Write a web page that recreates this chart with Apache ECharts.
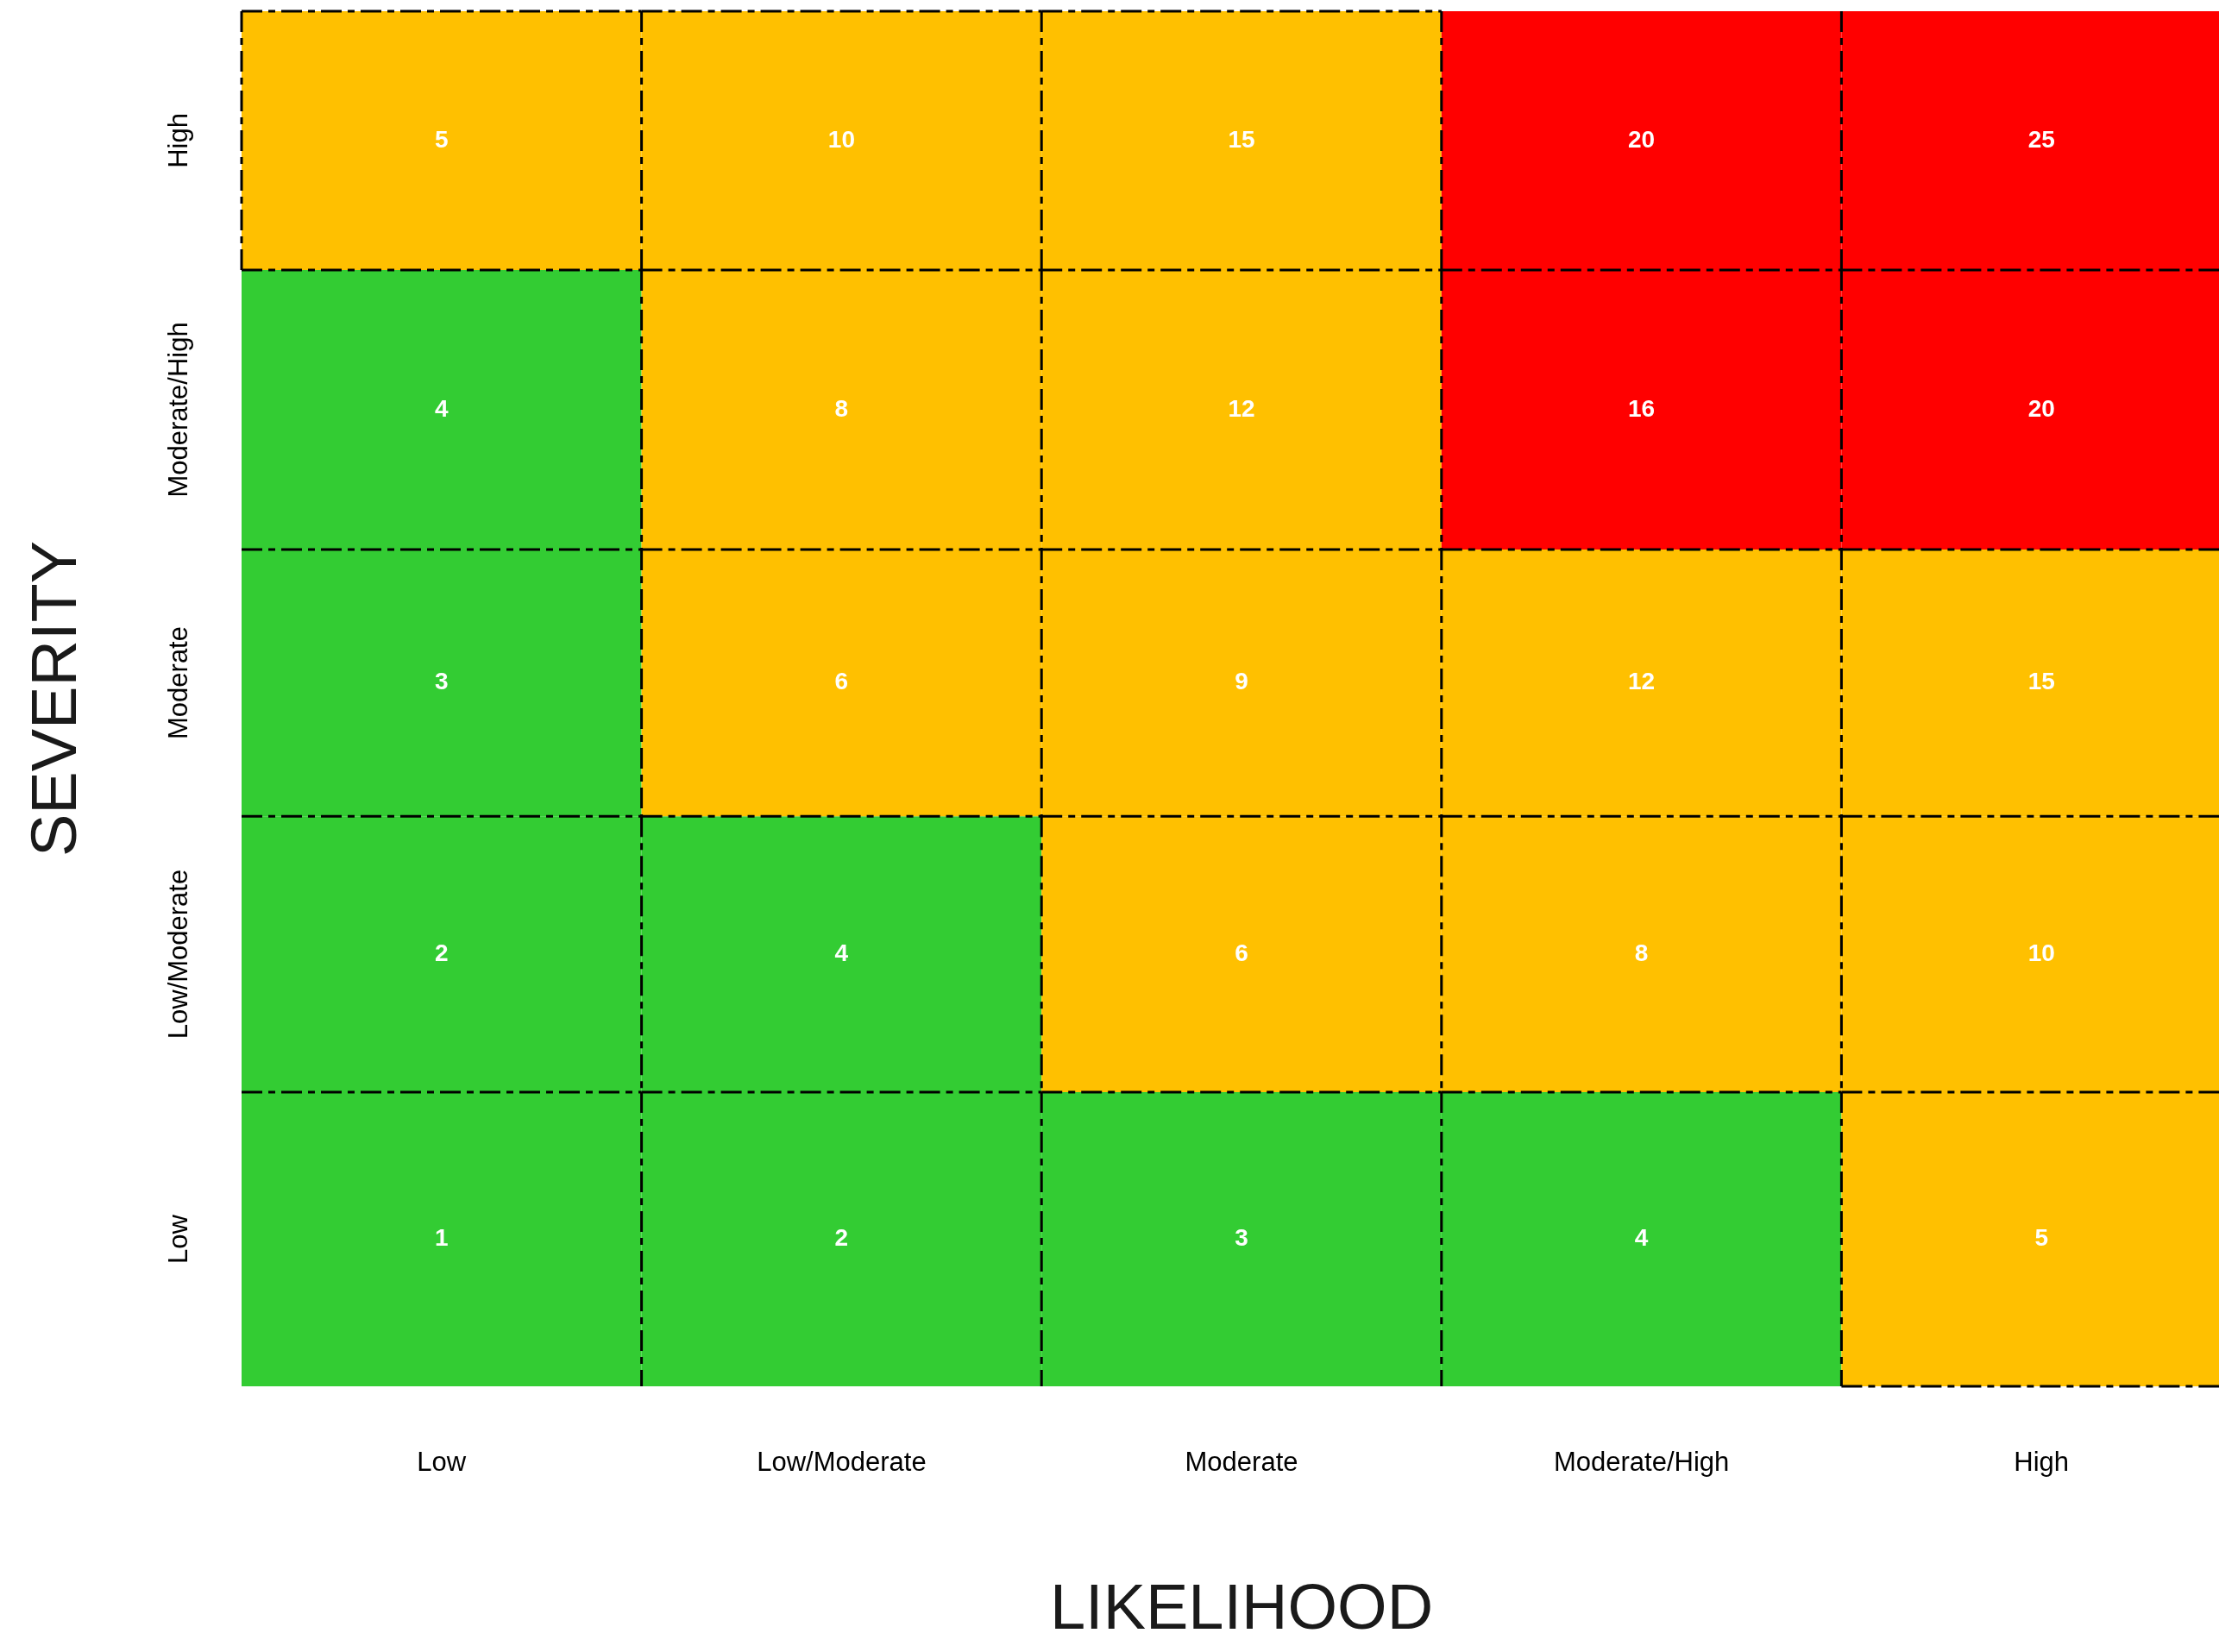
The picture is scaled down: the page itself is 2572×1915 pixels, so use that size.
<!DOCTYPE html>
<html>
<head>
<meta charset="utf-8">
<title>Risk Matrix</title>
<script src="https://cdn.jsdelivr.net/npm/echarts@6/dist/echarts.min.js"></script>
<style>
  html, body { margin: 0; padding: 0; background: #ffffff; overflow: hidden; }
  /* the last column runs slightly past the right edge of the page */
  #chart { width: 2600px; height: 1915px; }
</style>
</head>
<body>
<div id="chart"></div>
<script>
// Axis categories
const likelihood = ['Low', 'Low/Moderate', 'Moderate', 'Moderate/High', 'High'];
const severity = ['Low', 'Low/Moderate', 'Moderate', 'Moderate/High', 'High'];

// Row bounds of each severity band on the value axis (bottom to top)
const severityEdges = [0, 1.070, 2.073, 3.043, 4.059, 5];

// Risk scores, one row per severity (Low first), one column per likelihood
const scoreLow = [1, 2, 3, 4, 5];
const scoreLowModerate = [2, 4, 6, 8, 10];
const scoreModerate = [3, 6, 9, 12, 15];
const scoreModerateHigh = [4, 8, 12, 16, 20];
const scoreHigh = [5, 10, 15, 20, 25];
const scoreRows = [scoreLow, scoreLowModerate, scoreModerate, scoreModerateHigh, scoreHigh];

// Upper limits of the low and medium risk bands
const riskLimits = [4, 15];

const cells = [];
scoreRows.forEach((row, j) => {
  row.forEach((score, i) => cells.push([i, j, score]));
});

const FONT = '"Liberation Sans", Arial, Helvetica, sans-serif';
const dashStyle = { stroke: '#000000', lineWidth: 3, lineDash: [24, 7, 8, 7] };

function edge(x1, y1, x2, y2) {
  return { type: 'line', z2: 10, shape: { x1, y1, x2, y2 }, style: dashStyle };
}

function renderCell(params, api) {
  const i = api.value(0);
  const j = api.value(1);
  const score = api.value(2);
  const nCols = likelihood.length;
  const nRows = severity.length;
  const tl = api.coord([i, severityEdges[j + 1]]);
  const br = api.coord([i + 1, severityEdges[j]]);
  const x0 = tl[0], y0 = tl[1], x1 = br[0], y1 = br[1];
  const medium = score > riskLimits[0] && score <= riskLimits[1];
  const children = [{
    type: 'rect', z2: 0,
    shape: { x: x0, y: y0, width: x1 - x0, height: y1 - y0 },
    style: { fill: api.visual('color') }
  }];
  // interior boundaries are drawn once (top/right of each cell);
  // medium-risk cells also get their outer frame
  if (j < nRows - 1 || medium) children.push(edge(x0, y0, x1, y0));
  if (i < nCols - 1 || medium) children.push(edge(x1, y0, x1, y1));
  if (i === 0 && medium) children.push(edge(x0, y0, x0, y1));
  if (j === 0 && medium) children.push(edge(x0, y1, x1, y1));
  children.push({
    type: 'text', z2: 20,
    x: (x0 + x1) / 2, y: (y0 + y1) / 2,
    style: {
      text: String(score), fill: '#ffffff',
      font: 'bold 28px ' + FONT,
      align: 'center', verticalAlign: 'middle'
    }
  });
  return { type: 'group', children };
}

const chart = echarts.init(document.getElementById('chart'), null, { renderer: 'canvas' });

chart.setOption({
  backgroundColor: '#ffffff',
  animation: false,
  grid: { left: 280, top: 13, right: 2, bottom: 308, containLabel: false },
  visualMap: {
    show: false,
    type: 'piecewise',
    dimension: 2,
    pieces: [
      { lte: riskLimits[0], color: '#33CC33' },
      { gt: riskLimits[0], lte: riskLimits[1], color: '#FFC000' },
      { gt: riskLimits[1], color: '#FF0000' }
    ]
  },
  xAxis: {
    type: 'value', min: 0, max: likelihood.length, interval: 1,
    name: 'LIKELIHOOD', nameLocation: 'middle', nameGap: 224,
    nameTextStyle: { fontSize: 74, color: '#1a1a1a', fontFamily: FONT },
    axisLine: { show: false }, axisTick: { show: false }, splitLine: { show: false },
    axisLabel: {
      customValues: likelihood.map((_, k) => k + 0.5),
      formatter: v => likelihood[Math.floor(v)],
      fontSize: 31, color: '#000000', fontFamily: FONT, margin: 74
    }
  },
  yAxis: {
    type: 'value', min: 0, max: severity.length, interval: 1,
    name: 'SEVERITY', nameLocation: 'middle', nameGap: 175, nameRotate: 90,
    nameTextStyle: { fontSize: 74, color: '#1a1a1a', fontFamily: FONT },
    axisLine: { show: false }, axisTick: { show: false }, splitLine: { show: false },
    axisLabel: {
      customValues: severity.map((_, k) => (severityEdges[k] + severityEdges[k + 1]) / 2),
      formatter: v => severity[severityEdges.findIndex((e, k) => v >= e && v < severityEdges[k + 1])],
      rotate: 90,
      fontSize: 31, color: '#000000', fontFamily: FONT, margin: 56
    }
  },
  series: [{
    type: 'custom',
    renderItem: renderCell,
    encode: { x: 0, y: 1 },
    data: cells,
    clip: false
  }]
});
</script>
</body>
</html>
